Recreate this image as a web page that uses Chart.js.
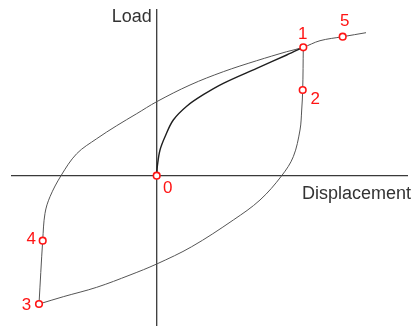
<!DOCTYPE html>
<html lang="en">
<head>
    <meta charset="UTF-8">
    <title>Load - Displacement</title>
    <script src="https://cdn.jsdelivr.net/npm/chart.js"></script>
    <style>
        body { margin: 0; background: #fff; }
        #wrap { position: relative; width: 413px; height: 327px; }
    </style>
</head>
<body>
    <div id="wrap"><canvas id="hysteresisChart"></canvas></div>

    <script>
        // Initial loading branch 0 -> 1
        const loadX = [0, 0.08, 0.33, 0.83, 1.66, 3.0, 4.66, 6.66, 10.0, 13.0, 14.66];
        const loadY = [0, 1.07, 2.57, 3.9, 5.57, 6.95, 8.1, 9.24, 10.74, 12.07, 12.84];

        // Unloading branch 1 -> 2 -> 3
        const unloadX = [14.66, 14.6, 14.5, 14.33, 13.66, 12.5, 10.33, 7.66, 3.5, 0, -2.67, -6.0, -9.34, -11.77];
        const unloadY = [12.84, 8.57, 6.57, 4.57, 1.9, 0, -2.43, -4.43, -7.1, -8.83, -9.93, -11.16, -12.1, -12.83];

        // Reloading branch 3 -> 4 -> 1 -> 5
        const reloadX = [-11.77, -11.4, -11.17, -10.67, -9.57, -8.0, -6.0, -4.0, -2.0, 0, 3.33, 6.66, 10.0, 13.0, 14.66, 16.33, 18.6, 20.93];
        const reloadY = [-12.83, -6.5, -3.76, -2.1, 0, 2.2, 3.7, 5.0, 6.2, 7.4, 9.07, 10.4, 11.5, 12.4, 12.84, 13.5, 13.9, 14.3];

        // Numbered states on the curve
        const stateNames = ['0', '1', '2', '3', '4', '5'];
        const stateX = [0, 14.66, 14.6, -11.77, -11.4, 18.6];
        const stateY = [0, 12.84, 8.57, -12.83, -6.5, 13.9];

        const xRange = [-14.57, 25.13];
        const yRange = [-15.03, 16.67];

        function toPoints(xs, ys) {
            return xs.map((x, i) => ({ x: x, y: ys[i] }));
        }

        const FONT = '"Liberation Sans", Arial, sans-serif';

        // Axes through the origin plus their titles
        const axesPlugin = {
            id: 'originAxes',
            beforeDatasetsDraw(chart) {
                const { ctx, chartArea: a, scales: { x, y } } = chart;
                const x0 = x.getPixelForValue(0);
                const y0 = y.getPixelForValue(0);
                ctx.save();
                ctx.strokeStyle = '#3a3a3a';
                ctx.lineWidth = 1.3;
                ctx.beginPath();
                ctx.moveTo(a.left, y0);
                ctx.lineTo(a.right, y0);
                ctx.moveTo(x0, a.top);
                ctx.lineTo(x0, a.bottom);
                ctx.stroke();

                ctx.fillStyle = '#333';
                ctx.font = '18px ' + FONT;
                ctx.textAlign = 'right';
                ctx.textBaseline = 'alphabetic';
                ctx.fillText('Load', x0 - 5, a.top + 13);
                ctx.fillText('Displacement', a.right + 3, y0 + 23);
                ctx.restore();
            }
        };

        // Number next to each state marker
        const stateLabels = {
            id: 'stateLabels',
            afterDatasetsDraw(chart) {
                const { ctx } = chart;
                const meta = chart.getDatasetMeta(0);
                const offsets = [[11, 17], [-0.5, -8], [12.5, 14], [-12.5, 6], [-11.5, 3], [2, -11]];
                ctx.save();
                ctx.fillStyle = '#ff1414';
                ctx.font = '17px ' + FONT;
                ctx.textAlign = 'center';
                ctx.textBaseline = 'alphabetic';
                meta.data.forEach((pt, i) => {
                    ctx.fillText(stateNames[i], pt.x + offsets[i][0], pt.y + offsets[i][1]);
                });
                ctx.restore();
            }
        };

        const curve = {
            type: 'line',
            borderColor: '#555',
            borderWidth: 1,
            pointRadius: 0,
            tension: 0.35,
            fill: false,
            order: 1
        };

        const ctx = document.getElementById('hysteresisChart').getContext('2d');
        new Chart(ctx, {
            type: 'scatter',
            data: {
                datasets: [
                    {
                        label: 'States',
                        data: toPoints(stateX, stateY),
                        pointRadius: 3.3,
                        pointBorderWidth: 1.6,
                        pointBorderColor: '#ff1414',
                        pointBackgroundColor: '#fff',
                        showLine: false,
                        order: 0
                    },
                    Object.assign({}, curve, { label: 'Loading', data: toPoints(loadX, loadY), borderColor: '#1e1e1e', borderWidth: 1.4 }),
                    Object.assign({}, curve, { label: 'Unloading', data: toPoints(unloadX, unloadY) }),
                    Object.assign({}, curve, { label: 'Reloading', data: toPoints(reloadX, reloadY) })
                ]
            },
            options: {
                responsive: true,
                maintainAspectRatio: false,
                animation: false,
                layout: { autoPadding: false, padding: { left: 11, right: 5, top: 9, bottom: 1 } },
                plugins: {
                    legend: { display: false },
                    tooltip: { enabled: false }
                },
                scales: {
                    x: { type: 'linear', display: false, min: xRange[0], max: xRange[1] },
                    y: { type: 'linear', display: false, min: yRange[0], max: yRange[1] }
                }
            },
            plugins: [axesPlugin, stateLabels]
        });
    </script>
</body>
</html>
